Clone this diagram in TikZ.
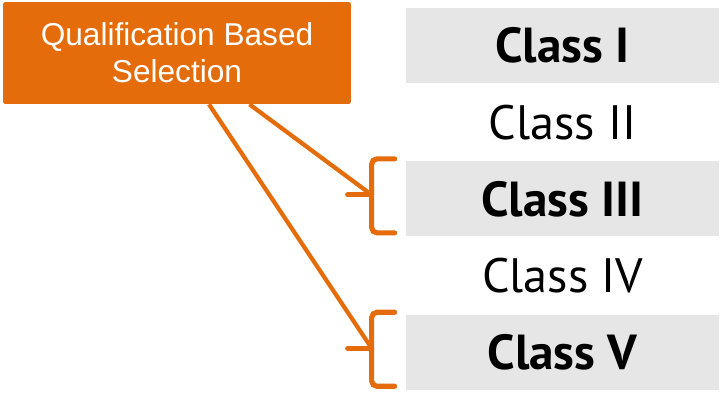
\documentclass[tikz,border=0pt]{standalone}
\usepackage{fontspec}
\newfontfamily\boxfont{Liberation Sans}
\newfontfamily\classfont{PT Sans}
\usetikzlibrary{positioning,calc}
\definecolor{qbsorange}{HTML}{E46C0A}
\definecolor{bargray}{HTML}{E6E6E6}
\tikzset{
  qbsbox/.style={fill=qbsorange, rounded corners=1pt, minimum width=6.96cm, minimum height=2.04cm, align=center, text=white, font=\boxfont\fontsize{18}{21}\selectfont},
  classrow/.style={minimum width=6.26cm, minimum height=1.5cm, inner sep=0pt, font=\classfont\fontsize{27.5}{30}\selectfont},
  shaded/.style={classrow, fill=bargray, font=\classfont\bfseries\fontsize{28}{30}\selectfont},
  bracket/.style={draw=qbsorange, line width=2.9pt, rounded corners=3pt, line cap=round},
  link/.style={draw=qbsorange, line width=2.4pt}
}
\begin{document}
\begin{tikzpicture}[x=0.02cm,y=-0.02cm]
\useasboundingbox (0,0) rectangle (720,395);

% selection method
\node[qbsbox] (qbs) at (177,53) {Qualification Based\\Selection};

% class rows
\node[shaded] (c1) at (562.5,45.5) {Class I};
\node[classrow, below=0.02cm of c1] (c2) {Class II};
\node[shaded, below=0.02cm of c2] (c3) {Class III};
\node[classrow, below=0.02cm of c3] (c4) {Class IV};
\node[shaded, below=0.02cm of c4] (c5) {Class V};

% brackets
\foreach \row in {c3,c5} {
  \draw[bracket] ($(\row.west)+(-11,-40)$) -- ++(-23,0) -- ++(0,74) -- ++(23,0);
  \coordinate (\row-tip) at ($(\row.west)+(-34,-4)$);
  \draw[bracket] (\row-tip) -- ++(-24,0);
}

% links
\draw[link] ([xshift=1.45cm]qbs.south) -- (c3-tip);
\draw[link] ([xshift=0.64cm]qbs.south) -- (c5-tip);
\end{tikzpicture}
\end{document}
